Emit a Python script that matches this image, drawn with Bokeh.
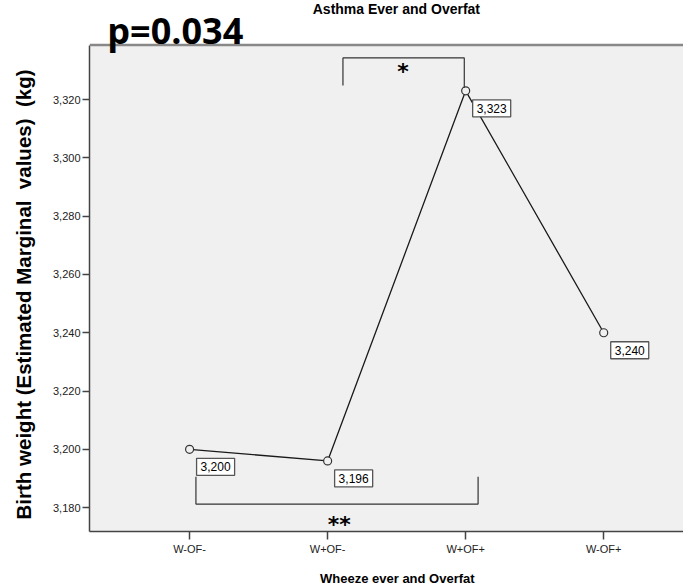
from bokeh.plotting import figure
from bokeh.models import (ColumnDataSource, Range1d, FixedTicker, NumeralTickFormatter,
                          LinearAxis, Label, BoxAnnotation, Span)
from bokeh.embed import file_html
from bokeh.resources import INLINE

# Estimated marginal means of birth weight by wheeze / overfat group
groups = ["W-OF-", "W+OF-", "W+OF+", "W-OF+"]
birth_weight = [3200, 3196, 3323, 3240]
y_ticks = [3180, 3200, 3220, 3240, 3260, 3280, 3300, 3320]

# value extent of the shaded plotting area; the canvas above it holds the headings
Y_LOW, Y_HIGH, Y_CANVAS_TOP = 3171.8, 3338.7, 3354.0
NBSP = "\u00a0"

xs = list(range(len(groups)))
source = ColumnDataSource(dict(x=xs, y=birth_weight))

p = figure(width=683, height=588, output_backend="svg", toolbar_location=None,
           title=None,
           x_range=Range1d(-0.725, 3.578), y_range=Range1d(Y_LOW, Y_CANVAS_TOP),
           min_border_left=89, min_border_top=0, min_border_bottom=52,
           min_border_right=0, x_axis_type=None, y_axis_type=None)

p.background_fill_color = "white"
p.border_fill_color = "white"
p.outline_line_color = None
p.xgrid.visible = False
p.ygrid.visible = False

# shaded plotting area and its top border
p.add_layout(BoxAnnotation(top=Y_HIGH, fill_color="#f0f0f0", fill_alpha=1.0,
                           line_color=None, level="underlay"))
p.add_layout(Span(location=Y_HIGH, dimension="width", line_color="#888888",
                  line_width=2.5))

# bottom axis with group names (title padded so it centres under the groups)
xaxis = LinearAxis(ticker=FixedTicker(ticks=xs),
                   major_label_overrides={i: g for i, g in enumerate(groups)},
                   axis_label=NBSP * 6 + "Wheeze ever and Overfat")
xaxis.axis_line_color = "#444444"
xaxis.axis_line_width = 1.5
xaxis.major_tick_line_color = "#444444"
xaxis.major_tick_line_width = 1.5
xaxis.major_tick_out = 8
xaxis.major_tick_in = 0
xaxis.minor_tick_line_color = None
xaxis.major_label_standoff = 3
xaxis.major_label_text_font = "Liberation Sans"
xaxis.major_label_text_font_size = "11px"
xaxis.major_label_text_color = "#222222"
xaxis.axis_label_standoff = 13
xaxis.axis_label_text_font = "Liberation Sans"
xaxis.axis_label_text_font_style = "bold"
xaxis.axis_label_text_font_size = "13px"
xaxis.axis_label_text_color = "black"
p.add_layout(xaxis, "below")

# left axis, its line limited to the shaded area
# (title padded at its end so it centres on the shaded area, not the full canvas)
yaxis = LinearAxis(ticker=FixedTicker(ticks=y_ticks), bounds=(Y_LOW, Y_HIGH),
                   formatter=NumeralTickFormatter(format="0,0"),
                   axis_label="Birth weight (Estimated Marginal" + NBSP + " values)"
                              + NBSP + " (kg)" + NBSP * 10)
yaxis.axis_line_color = "#444444"
yaxis.axis_line_width = 1.5
yaxis.major_tick_line_color = "#444444"
yaxis.major_tick_line_width = 1.5
yaxis.major_tick_out = 7
yaxis.major_tick_in = 0
yaxis.minor_tick_line_color = None
yaxis.major_label_standoff = 2
yaxis.major_label_text_font = "Liberation Sans"
yaxis.major_label_text_font_size = "11px"
yaxis.major_label_text_color = "#222222"
yaxis.axis_label_standoff = 15
yaxis.axis_label_text_font = "Liberation Sans"
yaxis.axis_label_text_font_style = "bold"
yaxis.axis_label_text_font_size = "20.5px"
yaxis.axis_label_text_color = "black"
p.add_layout(yaxis, "left")

# means line with open circle markers
p.line("x", "y", source=source, line_color="#1a1a1a", line_width=1.3)
p.scatter("x", "y", source=source, size=8, marker="circle",
          line_color="#333333", line_width=1.2, fill_color="#f0f0f0")

# boxed value labels
for x, y in zip(xs, birth_weight):
    p.add_layout(Label(x=x, y=y, text=f"{y:,}", x_offset=7, y_offset=-9,
                       text_align="left", text_baseline="top",
                       text_font="Liberation Sans", text_font_size="12px",
                       text_color="black", background_fill_color="white",
                       border_line_color="#555555", border_line_width=1.3,
                       padding=4))

# significance brackets
bracket_color = "#333333"
p.line([1.111, 1.111, 1.99, 1.99], [3324.8, 3334.3, 3334.3, 3324.1],
       line_color=bracket_color, line_width=1.2)
p.line([0.046, 0.046, 2.09, 2.09], [3190.6, 3181.2, 3181.2, 3190.6],
       line_color=bracket_color, line_width=1.2)
p.add_layout(Label(x=1.546, y=3329.5, text="*", text_align="center",
                   text_baseline="middle", text_font="DejaVu Sans",
                   text_font_style="bold", text_font_size="22px", text_color="black"))
p.add_layout(Label(x=1.085, y=3174.2, text="**", text_align="center",
                   text_baseline="middle", text_font="DejaVu Sans",
                   text_font_style="bold", text_font_size="22px", text_color="black"))

# p-value and chart title in the white band above the shaded area
p.add_layout(Label(x=-0.596, y=3343.6, text="p=0.034",
                   text_align="left", text_baseline="alphabetic", text_font="Open Sans",
                   text_font_style="bold", text_font_size="36px", text_color="black"))
p.add_layout(Label(x=1.498, y=3351.2, text="Asthma Ever and Overfat",
                   text_align="center", text_baseline="alphabetic",
                   text_font="Liberation Sans", text_font_style="bold",
                   text_font_size="14px", text_color="black"))

open("out.html", "w").write(file_html(p, INLINE))
